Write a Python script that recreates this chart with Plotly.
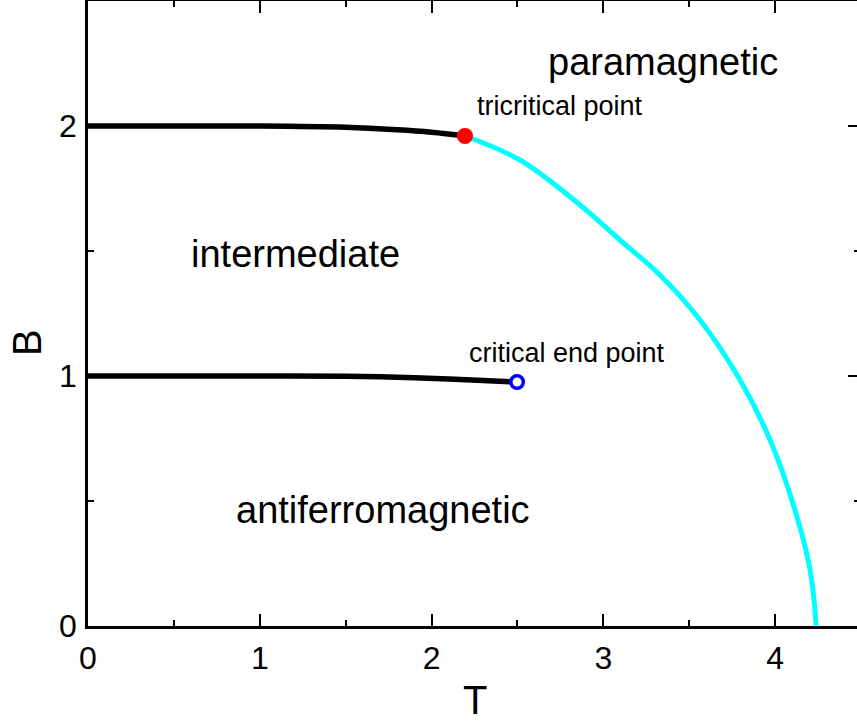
import plotly.graph_objects as go

# Upper first-order line (up to tricritical point)
upper_T = [0.0, 0.5, 1.0, 1.5, 1.8, 2.0, 2.2]
upper_B = [2.0, 2.0, 2.0, 1.995, 1.985, 1.975, 1.96]

# Second-order line (cyan) from tricritical point to B=0
second_T = [2.195, 2.515, 2.865, 3.097, 3.330, 3.563, 3.796, 3.971, 4.116, 4.204, 4.239]
second_B = [1.96, 1.864, 1.684, 1.544, 1.404, 1.224, 0.984, 0.744, 0.464, 0.224, 0.0]

# Lower first-order line ending at critical end point
lower_T = [0.0, 0.5, 1.0, 1.5, 1.8, 2.1, 2.3, 2.5]
lower_B = [1.0, 1.0, 1.0, 0.999, 0.995, 0.988, 0.982, 0.976]

tricritical = (2.195, 1.96)
critical_end = (2.498, 0.976)

region_labels = ["paramagnetic", "intermediate", "antiferromagnetic",
                 "tricritical point", "critical end point"]

FONT = "Liberation Sans, Arial, sans-serif"

fig = go.Figure()
fig.add_trace(go.Scatter(x=upper_T, y=upper_B, mode="lines",
                         line=dict(color="black", width=5.5, shape="spline"), showlegend=False))
fig.add_trace(go.Scatter(x=lower_T, y=lower_B, mode="lines",
                         line=dict(color="black", width=5.5, shape="spline"), showlegend=False))
fig.add_trace(go.Scatter(x=second_T, y=second_B, mode="lines",
                         line=dict(color="#00FFFF", width=5, shape="spline"), showlegend=False))
fig.add_trace(go.Scatter(x=[tricritical[0]], y=[tricritical[1]], mode="markers",
                         marker=dict(color="red", size=16, line=dict(width=0)),
                         showlegend=False))
fig.add_trace(go.Scatter(x=[critical_end[0]], y=[critical_end[1]], mode="markers",
                         marker=dict(color="white", size=12.5,
                                     line=dict(color="blue", width=3.5)),
                         showlegend=False))
# dummy trace for mirrored axes
fig.add_trace(go.Scatter(x=[None], y=[None], xaxis="x2", yaxis="y2",
                         showlegend=False, hoverinfo="skip"))

XR = [0, 4.477]
YR = [0, 2.5]

axis_common = dict(ticks="inside", ticklen=12, tickwidth=2, tickcolor="black",
                   showgrid=False, zeroline=False, automargin=False)
minor_common = dict(dtick=0.5, tick0=0, ticks="inside", ticklen=6, tickwidth=2,
                    tickcolor="black")

fig.update_layout(
    width=857, height=721,
    margin=dict(l=88, r=0, t=1, b=95, autoexpand=False),
    paper_bgcolor="white", plot_bgcolor="white",
    font=dict(family=FONT, color="black"),
    xaxis=dict(range=XR, dtick=1, tick0=0, showline=True, linewidth=2.5, linecolor="black",
               tickfont=dict(size=32, family=FONT), ticklabelstandoff=2,
               minor=minor_common, **axis_common),
    yaxis=dict(range=YR, dtick=1, tick0=0, showline=True, linewidth=2.5, linecolor="black",
               tickfont=dict(size=32, family=FONT), ticklabelstandoff=2,
               minor=minor_common, **axis_common),
    xaxis2=dict(range=XR, overlaying="x", side="top", dtick=1, tick0=0,
                showticklabels=False, showline=True, linewidth=2.5, linecolor="black",
                minor=minor_common, **axis_common),
    yaxis2=dict(range=YR, overlaying="y", side="right", dtick=1, tick0=0,
                showticklabels=False, showline=False,
                minor=dict(dtick=0.5, tick0=0, ticks="inside", ticklen=3, tickwidth=2,
                           tickcolor="black"),
                ticks="inside", ticklen=9, tickwidth=2, tickcolor="black",
                showgrid=False, zeroline=False, automargin=False),
)

ann = [
    dict(text=region_labels[0], x=3.348, y=2.256, size=38),
    dict(text=region_labels[1], x=1.208, y=1.488, size=38),
    dict(text=region_labels[2], x=1.715, y=0.464, size=38),
    dict(text=region_labels[3], x=2.748, y=2.08, size=27),
    dict(text=region_labels[4], x=2.789, y=1.092, size=27),
]
for a in ann:
    fig.add_annotation(x=a["x"], y=a["y"], xref="x", yref="y", text=a["text"],
                       showarrow=False, xanchor="center", yanchor="middle",
                       font=dict(size=a["size"], family=FONT, color="black"))

# Axis titles
fig.add_annotation(text="T", xref="paper", yref="paper", x=0.503, y=-0.118,
                   showarrow=False, xanchor="center", yanchor="middle",
                   font=dict(size=40, family=FONT, color="black"))
fig.add_annotation(text="B", xref="paper", yref="paper", x=-0.079, y=0.453,
                   showarrow=False, xanchor="center", yanchor="middle", textangle=-90,
                   font=dict(size=40, family=FONT, color="black"))

fig.write_html("out.html", config={"displayModeBar": False},
               post_script="document.body.style.margin='0px';document.body.style.overflow='hidden';")
